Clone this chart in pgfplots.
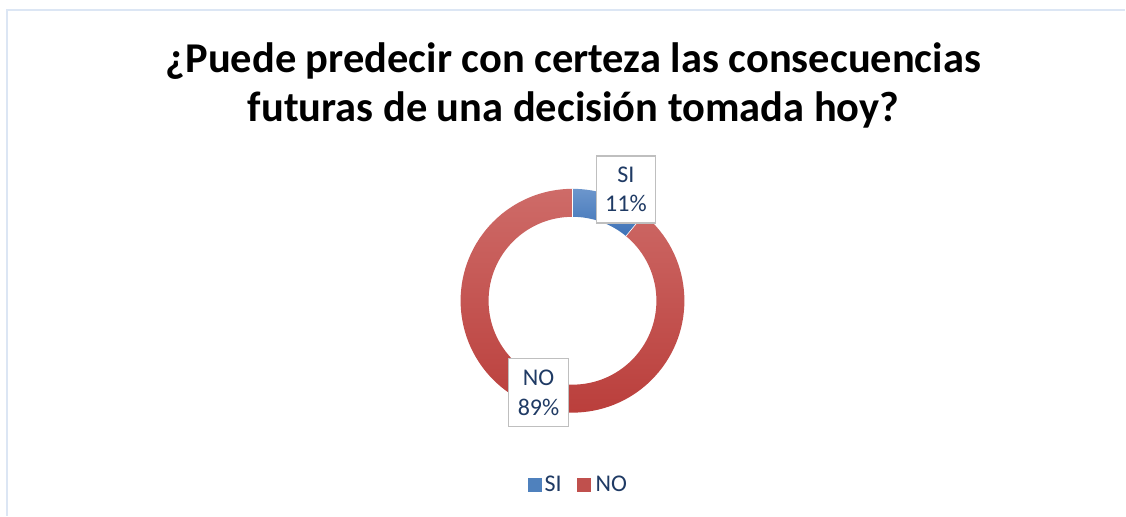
\documentclass[border=0pt]{standalone}
\usepackage{pgfplots}
\usepackage{pgfplotstable}
\pgfplotsset{compat=1.18}
\usepackage{fontspec}
\setmainfont{Carlito}
\definecolor{frameblue}{HTML}{DCE6F4}
\definecolor{lbltext}{HTML}{1F3A64}
\definecolor{boxgray}{HTML}{BFBFBF}
\definecolor{redtop}{HTML}{CE6B68}
\definecolor{redbot}{HTML}{B93C39}
\definecolor{bluetop}{HTML}{6C96CC}
\definecolor{bluebot}{HTML}{3E72B7}
\definecolor{legblue}{HTML}{4F81BD}
\definecolor{legred}{HTML}{C0504D}

\pgfplotstableread{
label value
SI 11
NO 89
}\datatable

\begin{document}
\begin{tikzpicture}
\pgfplotstablegetelem{0}{value}\of\datatable \edef\vSI{\pgfplotsretval}
\pgfplotstablegetelem{1}{value}\of\datatable \edef\vNO{\pgfplotsretval}
\pgfmathsetmacro\tot{\vSI+\vNO}
\pgfmathsetmacro\aSI{90-\vSI/\tot*360}
\pgfmathsetmacro\aNO{\aSI-\vNO/\tot*360}
\begin{axis}[
  width=1126bp, height=516bp, scale only axis,
  xmin=0, xmax=1126, ymin=0, ymax=516,
  hide axis, clip=false,
  /pgf/number format/assume math mode=true,
]
% background and frame
\fill[white] (axis cs:0,0) rectangle (axis cs:1126,516);
\draw[frameblue, line width=2bp] (axis cs:7,0) -- (axis cs:7,506) -- (axis cs:1126,506);

% title
\node[anchor=base, font=\fontsize{42.5bp}{48bp}\selectfont\bfseries] at (axis cs:574,443)
  {¿Puede predecir con certeza las consecuencias};
\node[anchor=base, font=\fontsize{42.5bp}{48bp}\selectfont\bfseries] at (axis cs:574,394)
  {futuras de una decisión tomada hoy?};

% donut
\begin{scope}[shift={(axis cs:573,215)}]
  \shade[top color=bluetop, bottom color=bluebot]
    (90:112bp) arc[start angle=90, end angle=\aSI, radius=112bp]
    -- (\aSI:84bp) arc[start angle=\aSI, end angle=90, radius=84bp] -- cycle;
  \shade[top color=redtop, bottom color=redbot]
    (\aSI:112bp) arc[start angle=\aSI, end angle=\aNO, radius=112bp]
    -- (\aNO:84bp) arc[start angle=\aNO, end angle=\aSI, radius=84bp] -- cycle;
  \draw[white, line width=0.6bp] (90:84bp) -- (90:112bp);
  \draw[white, line width=0.6bp] (\aSI:84bp) -- (\aSI:112bp);
\end{scope}

% data labels
\node[draw=boxgray, line width=1.5bp, fill=white, minimum width=59bp, minimum height=67bp,
  inner sep=0pt, align=center, text=lbltext, font=\fontsize{24bp}{30bp}\selectfont]
  at (axis cs:626.5,326.5) {SI\\\pgfmathprintnumber[precision=0]{\vSI}\%};
\node[draw=boxgray, line width=1.5bp, fill=white, minimum width=60bp, minimum height=68bp,
  inner sep=0pt, align=center, text=lbltext, font=\fontsize{24bp}{30bp}\selectfont]
  at (axis cs:539,123) {NO\\\pgfmathprintnumber[precision=0]{\vNO}\%};

% legend
\fill[legblue] (axis cs:528,24) rectangle (axis cs:542,38);
\node[anchor=base west, inner sep=0pt, text=lbltext, font=\fontsize{24bp}{28bp}\selectfont] at (axis cs:545,24) {SI};
\fill[legred] (axis cs:578,24) rectangle (axis cs:592,38);
\node[anchor=base west, inner sep=0pt, text=lbltext, font=\fontsize{24bp}{28bp}\selectfont] at (axis cs:596,24) {NO};
\end{axis}
\end{tikzpicture}
\end{document}
